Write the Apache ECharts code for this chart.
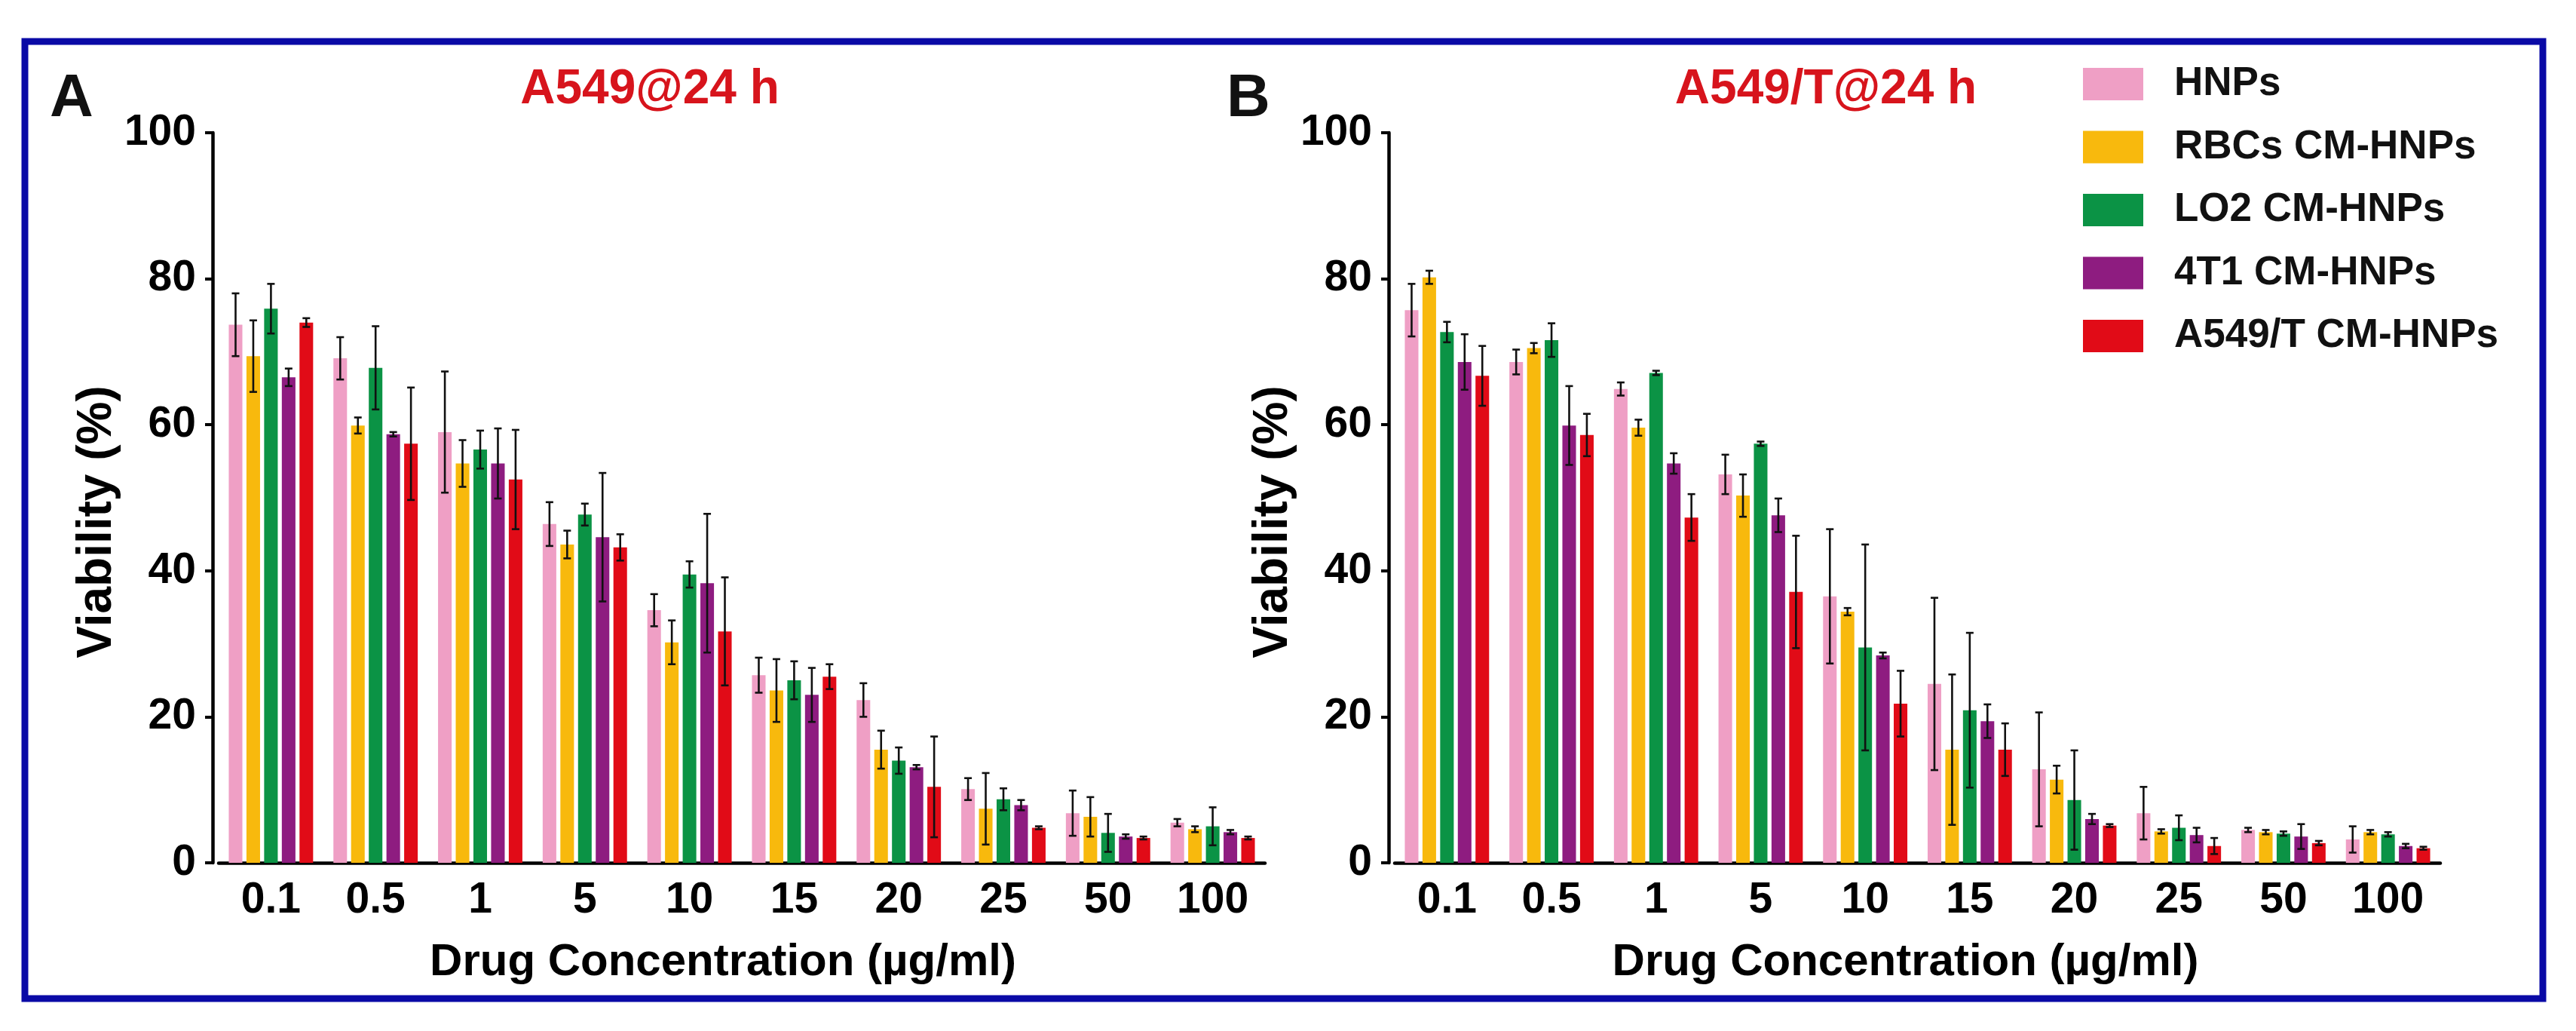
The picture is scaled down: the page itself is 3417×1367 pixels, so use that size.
<!DOCTYPE html>
<html>
<head>
<meta charset="utf-8">
<title>Viability of A549 and A549/T cells</title>
<script src="https://cdn.jsdelivr.net/npm/echarts@6/dist/echarts.min.js"></script>
<style>
  html, body { margin: 0; padding: 0; background: #fff; }
  #chart { width: 3417px; height: 1367px; }
</style>
</head>
<body>
<div id="chart"></div>
<script>
// concentrations on the x axis
var CONC = ["0.1", "0.5", "1", "5", "10", "15", "20", "25", "50", "100"];
var GROUPS = ["HNPs", "RBCs CM-HNPs", "LO2 CM-HNPs", "4T1 CM-HNPs", "A549/T CM-HNPs"];
var COLORS = ["#ef9fc5", "#f8b90d", "#0b9345", "#8e1c80", "#e10b17"];
var Y_TICKS = [0, 20, 40, 60, 80, 100];

// panel A : A549@24 h  (mean viability %, and error)
var hnpsA    = [73.7, 69.1, 59.0, 46.4, 34.6, 25.7, 22.3, 10.1, 6.8, 5.5];
var rbcsA    = [69.4, 59.9, 54.7, 43.6, 30.2, 23.6, 15.5, 7.4, 6.3, 4.6];
var lo2A     = [75.9, 67.8, 56.6, 47.7, 39.5, 25.0, 14.0, 8.7, 4.1, 5.0];
var t41A     = [66.5, 58.7, 54.7, 44.6, 38.3, 23.0, 13.1, 7.9, 3.6, 4.2];
var a549tA   = [74.0, 57.4, 52.5, 43.2, 31.7, 25.5, 10.4, 4.8, 3.4, 3.4];
var hnpsAErr  = [4.3, 2.9, 8.3, 3.0, 2.2, 2.4, 2.3, 1.5, 3.1, 0.5];
var rbcsAErr  = [4.9, 1.1, 3.2, 1.9, 3.0, 4.3, 2.6, 4.9, 2.7, 0.4];
var lo2AErr   = [3.4, 5.7, 2.6, 1.5, 1.8, 2.6, 1.8, 1.5, 2.6, 2.6];
var t41AErr   = [1.2, 0.3, 4.8, 8.8, 9.5, 3.7, 0.3, 0.7, 0.3, 0.3];
var a549tAErr = [0.6, 7.7, 6.8, 1.8, 7.4, 1.7, 6.9, 0.2, 0.2, 0.2];

// panel B : A549/T@24 h
var hnpsB    = [75.7, 68.6, 64.9, 53.2, 36.5, 24.5, 12.8, 6.8, 4.5, 3.2];
var rbcsB    = [80.2, 70.5, 59.6, 50.3, 34.4, 15.5, 11.4, 4.3, 4.2, 4.2];
var lo2B     = [72.7, 71.6, 67.1, 57.4, 29.5, 20.9, 8.6, 4.8, 4.0, 3.9];
var t41B     = [68.6, 59.9, 54.7, 47.6, 28.4, 19.4, 6.0, 3.8, 3.6, 2.3];
var a549tB   = [66.7, 58.6, 47.3, 37.1, 21.8, 15.5, 5.1, 2.3, 2.7, 2.0];
var hnpsBErr  = [3.6, 1.7, 0.9, 2.7, 9.2, 11.8, 7.8, 3.6, 0.3, 1.8];
var rbcsBErr  = [0.9, 0.7, 1.1, 2.9, 0.5, 10.3, 1.9, 0.3, 0.3, 0.3];
var lo2BErr   = [1.4, 2.3, 0.3, 0.3, 14.1, 10.6, 6.8, 1.7, 0.3, 0.3];
var t41BErr   = [3.8, 5.4, 1.4, 2.3, 0.4, 2.3, 0.7, 1.0, 1.7, 0.3];
var a549tBErr = [4.1, 2.9, 3.2, 7.7, 4.5, 3.6, 0.2, 1.1, 0.3, 0.2];

var PANEL_A = [hnpsA, rbcsA, lo2A, t41A, a549tA];
var PANEL_A_ERR = [hnpsAErr, rbcsAErr, lo2AErr, t41AErr, a549tAErr];
var PANEL_B = [hnpsB, rbcsB, lo2B, t41B, a549tB];
var PANEL_B_ERR = [hnpsBErr, rbcsBErr, lo2BErr, t41BErr, a549tBErr];

// bar width as part of the category band, and gap between bars
var BAR_RATIO = 0.13;
var GAP_RATIO = 0.3;
var FONT = "'Liberation Sans', Arial, sans-serif";

var chart = echarts.init(document.getElementById("chart"));

// error bars drawn on top of each grouped bar
function errRender(params, api) {
	var cat = api.value(0), val = api.value(1), err = api.value(2), si = api.value(3);
	var band = api.size([1, 0])[0];
	var bw = band * BAR_RATIO;
	var dx = (si - 2) * bw * (1 + GAP_RATIO);
	var top = api.coord([cat, val + err]);
	var bot = api.coord([cat, Math.max(val - err, 0)]);
	var x = top[0] + dx;
	var cap = 5;
	var st = { stroke: "#111", lineWidth: 2.6 };
	return {
		type: "group",
		children: [
			{ type: "line", shape: { x1: x, y1: top[1], x2: x, y2: bot[1] }, style: st },
			{ type: "line", shape: { x1: x - cap, y1: top[1], x2: x + cap, y2: top[1] }, style: st },
			{ type: "line", shape: { x1: x - cap, y1: bot[1], x2: x + cap, y2: bot[1] }, style: st }
		]
	};
}

function errData(vals, errs) {
	var arr = [];
	for (var s = 0; s < vals.length; s++) {
		for (var c = 0; c < CONC.length; c++) {
			arr.push([c, vals[s][c], errs[s][c], s]);
		}
	}
	return arr;
}

function xAxisFor(idx, padRight) {
	return {
		type: "category",
		gridIndex: idx,
		data: CONC,
		axisLine: { lineStyle: { color: "#000", width: 4.5 } },
		axisTick: { alignWithLabel: true, length: 10, lineStyle: { color: "#000", width: 4 } },
		axisLabel: { color: "#000", fontSize: 57, fontWeight: "bold", fontFamily: FONT, margin: 22 },
		name: "Drug Concentration (µg/ml)",
		nameLocation: "middle",
		nameGap: 102,
		nameTextStyle: { color: "#000", fontSize: 60, fontWeight: "bold", fontFamily: FONT, padding: [0, padRight, 0, 0] }
	};
}

function yAxisFor(idx) {
	return {
		type: "value",
		gridIndex: idx,
		min: 0,
		max: 100,
		interval: 20,
		offset: 8,
		splitLine: { show: false },
		axisLine: { show: true, lineStyle: { color: "#000", width: 4.5 } },
		axisTick: { show: true, length: 10, lineStyle: { color: "#000", width: 4 } },
		axisLabel: { color: "#000", fontSize: 57, fontWeight: "bold", fontFamily: FONT, margin: 22,
			formatter: function (v) { return Y_TICKS.indexOf(v) >= 0 ? String(v) : ""; } },
		name: "Viability (%)",
		nameLocation: "middle",
		nameRotate: 90,
		nameGap: 112,
		nameTextStyle: { color: "#000", fontSize: 64, fontWeight: "bold", fontFamily: FONT, padding: [0, 64, 0, 0] }
	};
}

var series = [];
[PANEL_A, PANEL_B].forEach(function (panel, p) {
	panel.forEach(function (vals, s) {
		series.push({
			name: GROUPS[s],
			type: "bar",
			xAxisIndex: p,
			yAxisIndex: p,
			data: vals,
			barWidth: (BAR_RATIO * 100) + "%",
			barGap: (GAP_RATIO * 100) + "%",
			itemStyle: { color: COLORS[s] },
			animation: false
		});
	});
});
series.push({
	type: "custom", name: "errA", xAxisIndex: 0, yAxisIndex: 0, z: 5,
	renderItem: errRender, encode: { x: 0, y: 1 }, data: errData(PANEL_A, PANEL_A_ERR), animation: false
});
series.push({
	type: "custom", name: "errB", xAxisIndex: 1, yAxisIndex: 1, z: 5,
	renderItem: errRender, encode: { x: 0, y: 1 }, data: errData(PANEL_B, PANEL_B_ERR), animation: false
});

chart.setOption({
	backgroundColor: "#fff",
	animation: false,
	title: [
		{ text: "A549@24 h", left: 857, top: 82, textAlign: "center",
			textStyle: { color: "#d7141c", fontSize: 64, fontWeight: "bold", fontFamily: FONT } },
		{ text: "A549/T@24 h", left: 2417, top: 82, textAlign: "center",
			textStyle: { color: "#d7141c", fontSize: 64, fontWeight: "bold", fontFamily: FONT } }
	],
	legend: {
		data: GROUPS,
		orient: "vertical",
		left: 2758,
		top: 80,
		itemWidth: 80,
		itemHeight: 43,
		itemGap: 30.5,
		icon: "rect",
		selectedMode: false,
		textStyle: { color: "#111", fontSize: 53, fontWeight: "bold", fontFamily: FONT, lineHeight: 43, padding: [0, 0, 0, 36] }
	},
	grid: [
		{ left: 290, top: 176, width: 1388, height: 968 },
		{ left: 1850, top: 176, width: 1387, height: 968 }
	],
	xAxis: [xAxisFor(0, 50), xAxisFor(1, 32)],
	yAxis: [yAxisFor(0), yAxisFor(1)],
	graphic: [
		{ type: "rect", shape: { x: 33, y: 55, width: 3340, height: 1269 },
			style: { fill: "none", stroke: "#0a0aa6", lineWidth: 9 }, z: 10 },
		{ type: "text", left: 66, top: 92,
			style: { text: "A", fill: "#111", font: "bold 80px " + FONT } },
		{ type: "text", left: 1627, top: 92,
			style: { text: "B", fill: "#111", font: "bold 80px " + FONT } }
	],
	series: series
});
</script>
</body>
</html>
